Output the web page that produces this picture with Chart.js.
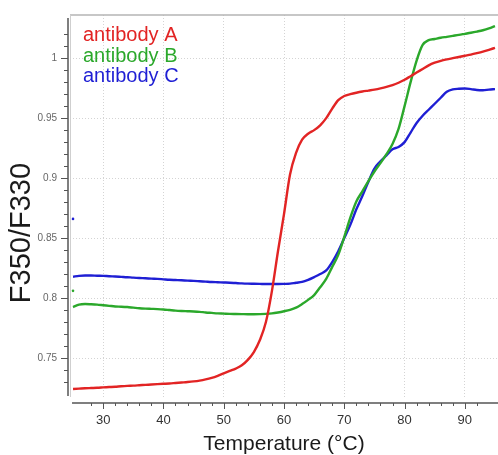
<!DOCTYPE html>
<html>
<head>
<meta charset="utf-8">
<title>F350/F330 vs Temperatura</title>
<script src="https://cdn.jsdelivr.net/npm/chart.js@4/dist/chart.umd.min.js"></script>
<style>
  html, body { margin: 0; padding: 0; background: #fff; }
  canvas { display: block; }
</style>
</head>
<body>
<canvas id="graficoNanoDSF" width="498" height="455"></canvas>
<script>
// Temperatura (°C) - um ponto por grau
const temperatura = [25, 26, 27, 28, 29, 30, 31, 32, 33, 34, 35, 36, 37, 38, 39, 40, 41, 42, 43, 44,
  45, 46, 47, 48, 49, 50, 51, 52, 53, 54, 55, 56, 57, 58, 59, 60, 61, 62, 63, 64, 65, 66, 67, 68, 69,
  70, 71, 72, 73, 74, 75, 76, 77, 78, 79, 80, 81, 82, 83, 84, 85, 86, 87, 88, 89, 90, 91, 92, 93, 94, 95];

// Razão F350/F330
const antibodyA = [0.7242, 0.7245, 0.7248, 0.7250, 0.7252, 0.7255, 0.7258, 0.7261, 0.7265, 0.7268,
  0.7270, 0.7273, 0.7276, 0.7279, 0.7282, 0.7285, 0.7288, 0.7292, 0.7296, 0.7300,
  0.7305, 0.7312, 0.7322, 0.7335, 0.7352, 0.7372, 0.7392, 0.7412, 0.7440, 0.7485,
  0.7550, 0.7650, 0.7800, 0.8060, 0.8390, 0.8700, 0.9030, 0.9210, 0.9320, 0.9370,
  0.9400, 0.9440, 0.9500, 0.9580, 0.9650, 0.9685, 0.9700, 0.9712, 0.9722, 0.9730,
  0.9738, 0.9748, 0.9760, 0.9775, 0.9795, 0.9820, 0.9850, 0.9880, 0.9910, 0.9940,
  0.9962, 0.9978, 0.9990, 1.0000, 1.0010, 1.0020, 1.0030, 1.0042, 1.0055, 1.0070, 1.0086];

const antibodyB = [0.7925, 0.7945, 0.7950, 0.7948, 0.7945, 0.7940, 0.7935, 0.7930, 0.7928, 0.7925,
  0.7920, 0.7915, 0.7912, 0.7910, 0.7908, 0.7905, 0.7900, 0.7895, 0.7892, 0.7890,
  0.7888, 0.7885, 0.7880, 0.7876, 0.7872, 0.7870, 0.7868, 0.7867, 0.7866, 0.7865,
  0.7865, 0.7866, 0.7868, 0.7872, 0.7880, 0.7890, 0.7902, 0.7920, 0.7950, 0.7985,
  0.8025, 0.8090, 0.8160, 0.8260, 0.8360, 0.8510, 0.8670, 0.8805, 0.8890, 0.8975,
  0.9055, 0.9125, 0.9200, 0.9285, 0.9410, 0.9600, 0.9800, 0.9980, 1.0110, 1.0150,
  1.0160, 1.0170, 1.0178, 1.0186, 1.0194, 1.0203, 1.0212, 1.0222, 1.0233, 1.0248, 1.0267];

const antibodyC = [0.8178, 0.8185, 0.8188, 0.8188, 0.8186, 0.8185, 0.8182, 0.8180, 0.8177, 0.8174,
  0.8170, 0.8167, 0.8165, 0.8162, 0.8160, 0.8156, 0.8152, 0.8150, 0.8148, 0.8145,
  0.8143, 0.8140, 0.8137, 0.8134, 0.8132, 0.8130, 0.8128, 0.8125, 0.8122, 0.8120,
  0.8119, 0.8118, 0.8117, 0.8117, 0.8117, 0.8118, 0.8120, 0.8128, 0.8135, 0.8152,
  0.8175, 0.8200, 0.8230, 0.8300, 0.8390, 0.8500, 0.8610, 0.8740, 0.8850, 0.8970,
  0.9080, 0.9140, 0.9190, 0.9240, 0.9260, 0.9300, 0.9380, 0.9460, 0.9520, 0.9570,
  0.9620, 0.9670, 0.9720, 0.9740, 0.9745, 0.9747, 0.9742, 0.9735, 0.9733, 0.9738, 0.9742];

// pontos soltos no início da medição
const outlierTemp = [25];
const outlierB = [0.806];
const outlierC = [0.866];

const nomes = ['antibody A', 'antibody B', 'antibody C'];
const cores = ['#e22424', '#2ba82b', '#1f1fd4'];

const xMajor = [30, 40, 50, 60, 70, 80, 90];
const yMajor = [0.75, 0.8, 0.85, 0.9, 0.95, 1];

const fonte = 'Liberation Sans, Arial, sans-serif';
const ehMaior = (lista, v) => lista.some(m => Math.abs(m - v) < 1e-6);

const pontos = (ys) => temperatura.map((t, i) => ({ x: t, y: ys[i] }));
const soltos = (ys) => outlierTemp.map((t, i) => ({ x: t, y: ys[i] }));

// tira o espaço extra que o Chart.js reserva para os rótulos das pontas
const semFolga = (s) => {
  s.paddingLeft = 0;
  s.paddingRight = 0;
  s.paddingTop = 0;
  s.paddingBottom = 0;
};

// eixos, ticks menores, título do eixo y e legenda
const eixos = {
  id: 'eixos',
  afterDraw(chart) {
    const { ctx, chartArea: ca, scales: { x, y } } = chart;
    ctx.save();

    ctx.strokeStyle = '#b4b4b4';
    ctx.lineWidth = 1.5;
    ctx.beginPath();
    ctx.moveTo(ca.left, ca.top);
    ctx.lineTo(ca.right, ca.top);
    ctx.stroke();

    ctx.strokeStyle = '#cfcfcf';
    ctx.lineWidth = 1;
    ctx.beginPath();
    ctx.moveTo(ca.left + 0.5, ca.top);
    ctx.lineTo(ca.left + 0.5, ca.bottom);
    ctx.stroke();

    // eixo y
    const yx = ca.left - 2;
    ctx.strokeStyle = '#555';
    ctx.lineWidth = 1.5;
    ctx.beginPath();
    ctx.moveTo(yx, ca.top + 3);
    ctx.lineTo(yx, ca.bottom - 1);
    ctx.stroke();
    ctx.lineWidth = 1;
    y.ticks.forEach(t => {
      if (Math.abs(t.value * 100 - Math.round(t.value * 100)) > 1e-6) return;
      const py = Math.round(y.getPixelForValue(t.value)) + 0.5;
      const len = ehMaior(yMajor, t.value) ? 7 : 4;
      ctx.beginPath();
      ctx.moveTo(yx, py);
      ctx.lineTo(yx - len, py);
      ctx.stroke();
    });

    // eixo x
    const xy = ca.bottom + 6;
    ctx.lineWidth = 1.5;
    ctx.beginPath();
    ctx.moveTo(x.getPixelForValue(25) - 1, xy);
    ctx.lineTo(ca.right, xy);
    ctx.stroke();
    ctx.lineWidth = 1;
    x.ticks.forEach(t => {
      if (Math.abs(t.value / 2 - Math.round(t.value / 2)) > 1e-6) return;
      const px = Math.round(x.getPixelForValue(t.value)) + 0.5;
      const len = ehMaior(xMajor, t.value) ? 6 : 3;
      ctx.beginPath();
      ctx.moveTo(px, xy);
      ctx.lineTo(px, xy + len);
      ctx.stroke();
    });

    // título do eixo y
    ctx.save();
    ctx.translate(22, 233);
    ctx.rotate(-Math.PI / 2);
    ctx.font = '29px ' + fonte;
    ctx.fillStyle = '#1a1a1a';
    ctx.textAlign = 'center';
    ctx.textBaseline = 'middle';
    ctx.fillText('F350/F330', 0, 0);
    ctx.restore();

    // legenda
    ctx.font = '20px ' + fonte;
    ctx.textAlign = 'left';
    ctx.textBaseline = 'alphabetic';
    nomes.forEach((n, i) => {
      ctx.fillStyle = cores[i];
      ctx.fillText(n, 83, 41 + i * 20.5);
    });

    ctx.restore();
  }
};

const ctx = document.getElementById('graficoNanoDSF').getContext('2d');
new Chart(ctx, {
  type: 'line',
  data: {
    datasets: [
      { label: nomes[0], data: pontos(antibodyA), borderColor: cores[0], borderWidth: 2.4, pointRadius: 0, cubicInterpolationMode: 'monotone', fill: false },
      { label: nomes[1], data: pontos(antibodyB), borderColor: cores[1], borderWidth: 2.4, pointRadius: 0, cubicInterpolationMode: 'monotone', fill: false },
      { label: nomes[2], data: pontos(antibodyC), borderColor: cores[2], borderWidth: 2.4, pointRadius: 0, cubicInterpolationMode: 'monotone', fill: false },
      { label: 'B solto', data: soltos(outlierB), showLine: false, pointRadius: 1.3, pointBorderWidth: 0, backgroundColor: cores[1] },
      { label: 'C solto', data: soltos(outlierC), showLine: false, pointRadius: 1.3, pointBorderWidth: 0, backgroundColor: cores[2] }
    ]
  },
  options: {
    responsive: false,
    animation: false,
    devicePixelRatio: 1,
    layout: { autoPadding: false, padding: { top: 15, right: 0, left: 0, bottom: 0 } },
    plugins: { legend: { display: false }, tooltip: { enabled: false } },
    scales: {
      x: {
        type: 'linear',
        min: 24.5,
        max: 95.5,
        afterFit: (s) => { s.height = 58; semFolga(s); },
        grid: {
          color: c => ehMaior(xMajor, c.tick.value) ? '#d4d4d4' : 'rgba(0,0,0,0)',
          drawTicks: false
        },
        border: { display: false, dash: [1, 2] },
        ticks: {
          stepSize: 2,
          autoSkip: false,
          maxRotation: 0,
          padding: 16,
          color: '#333',
          font: { family: fonte, size: 13 },
          callback: (v) => ehMaior(xMajor, v) ? String(Math.round(v)) : ''
        },
        title: {
          display: true,
          text: 'Temperature (°C)',
          color: '#1a1a1a',
          font: { family: fonte, size: 21, lineHeight: 1 },
          padding: { top: 0, bottom: 0 }
        }
      },
      y: {
        min: 0.7175,
        max: 1.036,
        afterFit: (s) => { s.width = 70; semFolga(s); },
        grid: {
          color: c => ehMaior(yMajor, c.tick.value) ? '#d4d4d4' : 'rgba(0,0,0,0)',
          drawTicks: false
        },
        border: { display: false, dash: [1, 2] },
        ticks: {
          stepSize: 0.01,
          autoSkip: false,
          padding: 13,
          color: '#666',
          font: { family: fonte, size: 10 },
          callback: (v) => ehMaior(yMajor, v) ? String(+v.toFixed(2)) : ''
        }
      }
    }
  },
  plugins: [eixos]
});
</script>
</body>
</html>
